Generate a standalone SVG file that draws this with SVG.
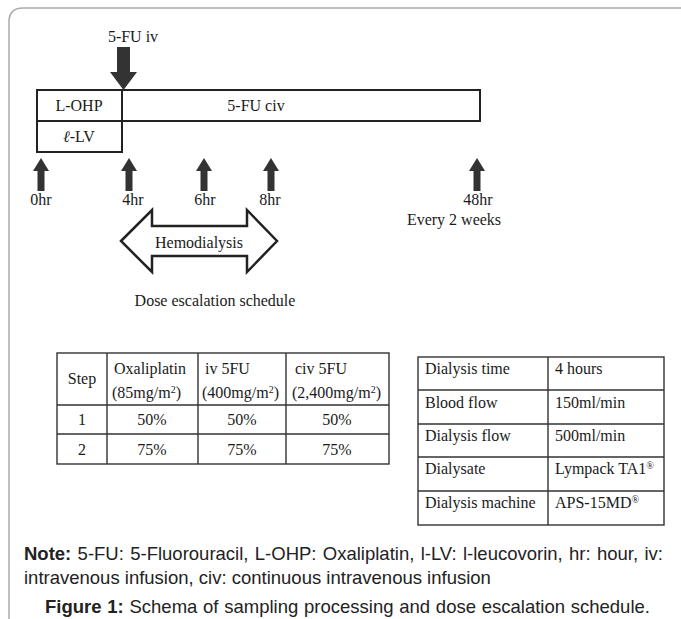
<svg xmlns="http://www.w3.org/2000/svg" width="681" height="619" viewBox="0 0 681 619">
<style>
.s{font-family:"Liberation Serif","DejaVu Serif",serif;font-size:16px;fill:#1a1a1a}
.m{text-anchor:middle}
.box{fill:#fff;stroke:#222;stroke-width:2}
.grid{fill:none;stroke:#333;stroke-width:1.4}
.arr{fill:#333;stroke:none}
.n{font-family:"Liberation Sans",Arial,sans-serif;font-size:18.5px;fill:#222}
</style>
<rect width="681" height="619" fill="#fff"/>
<path d="M9,619 V22 Q9,8 23,8 H681" fill="none" stroke="#aaa" stroke-width="1.5"/>

<g id="fu-iv">
<text class="s m" x="133" y="42">5-FU iv</text>
<path class="arr" d="M117,47 H130 V72 H137 L123.5,90 L110,72 H117 Z"/>
</g>

<g id="lohp"><rect class="box" x="37" y="90" width="85" height="31"/><text class="s m" x="79" y="111">L-OHP</text></g>
<g id="fuciv"><rect class="box" x="122" y="90" width="358" height="31"/><text class="s m" x="256" y="111">5-FU civ</text></g>
<g id="llv"><rect class="box" x="37" y="121" width="85" height="31"/><text class="s m" x="79" y="142"><tspan font-style="italic">ℓ</tspan>-LV</text></g>

<g id="timepoints">
<g id="t0"><path class="arr" d="M41,158 L49,171 H44.5 V191 H37.5 V171 H33 Z"/><text class="s m" x="41" y="205">0hr</text></g>
<g id="t4"><path class="arr" d="M129,158 L137,171 H132.5 V191 H125.5 V171 H121 Z"/><text class="s m" x="133" y="205">4hr</text></g>
<g id="t6"><path class="arr" d="M204,158 L212,171 H207.5 V191 H200.5 V171 H196 Z"/><text class="s m" x="205" y="205">6hr</text></g>
<g id="t8"><path class="arr" d="M271,158 L279,171 H274.5 V191 H267.5 V171 H263 Z"/><text class="s m" x="270" y="205">8hr</text></g>
<g id="t48"><path class="arr" d="M477,158 L485,171 H480.5 V191 H473.5 V171 H469 Z"/><text class="s m" x="478" y="205">48hr</text></g>
<text class="s m" x="454" y="225">Every 2 weeks</text>
</g>

<g id="hemodialysis">
<path d="M121,241 L152,210 V226 H247 V210 L277,241 L247,272 V256 H152 V272 Z" fill="#fff" stroke="#222" stroke-width="2.5" stroke-linejoin="miter"/>
<text class="s m" x="199" y="248">Hemodialysis</text>
</g>

<text class="s m" x="215" y="306">Dose escalation schedule</text>

<g id="dose-table">
<rect class="grid" x="57" y="353" width="332" height="111" stroke-width="1.8"/>
<path class="grid" d="M107,353 V464 M198,353 V464 M286,353 V464 M57,405 H389 M57,434 H389"/>
<text class="s m" x="82" y="384">Step</text>
<text class="s" x="114" y="374">Oxaliplatin</text>
<text class="s" x="112" y="398">(85mg/m<tspan font-size="10" dy="-5">2</tspan><tspan dy="5">)</tspan></text>
<text class="s" x="205" y="374">iv 5FU</text>
<text class="s" x="202" y="398">(400mg/m<tspan font-size="10" dy="-5">2</tspan><tspan dy="5">)</tspan></text>
<text class="s" x="295" y="374">civ 5FU</text>
<text class="s" x="292" y="398">(2,400mg/m<tspan font-size="10" dy="-5">2</tspan><tspan dy="5">)</tspan></text>
<text class="s m" x="82" y="425">1</text>
<text class="s m" x="152" y="425">50%</text>
<text class="s m" x="242" y="425">50%</text>
<text class="s m" x="337" y="425">50%</text>
<text class="s m" x="82" y="455">2</text>
<text class="s m" x="152" y="455">75%</text>
<text class="s m" x="242" y="455">75%</text>
<text class="s m" x="337" y="455">75%</text>
</g>

<g id="dialysis-table">
<rect class="grid" x="418" y="357" width="246" height="168" stroke-width="1.8"/>
<path class="grid" d="M548,357 V525 M418,390 H664 M418,424 H664 M418,457 H664 M418,491 H664"/>
<text class="s" x="425" y="374">Dialysis time</text><text class="s" x="555" y="374">4 hours</text>
<text class="s" x="425" y="408">Blood flow</text><text class="s" x="555" y="408">150ml/min</text>
<text class="s" x="425" y="441">Dialysis flow</text><text class="s" x="555" y="441">500ml/min</text>
<text class="s" x="425" y="474">Dialysate</text><text class="s" x="555" y="474">Lympack TA1<tspan font-size="10" dy="-5">®</tspan></text>
<text class="s" x="425" y="508">Dialysis machine</text><text class="s" x="555" y="508">APS-15MD<tspan font-size="10" dy="-5">®</tspan></text>
</g>

<text class="n" x="24" y="560" word-spacing="1.2"><tspan font-weight="bold">Note:</tspan> 5-FU: 5-Fluorouracil, L-OHP: Oxaliplatin, l-LV: l-leucovorin, hr: hour, iv:</text>
<text class="n" x="24" y="584">intravenous infusion, civ: continuous intravenous infusion</text>
<text class="n" x="45" y="613" font-size="18.7" word-spacing="0.6"><tspan font-weight="bold">Figure 1:</tspan> Schema of sampling processing and dose escalation schedule.</text>
</svg>
